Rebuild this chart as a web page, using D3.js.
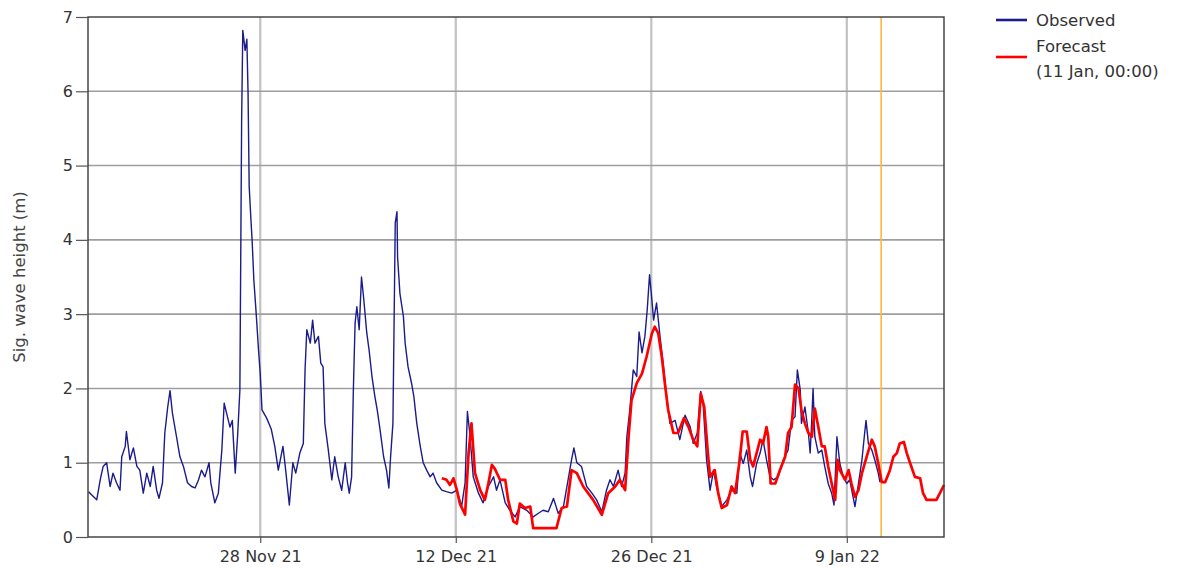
<!DOCTYPE html>
<html>
<head>
<meta charset="utf-8">
<script src="https://cdn.jsdelivr.net/npm/d3@7"></script>
<style>
  html, body { margin: 0; padding: 0; background: #fff; }
  svg { display: block; font-family: "DejaVu Sans", sans-serif; }
</style>
</head>
<body>
<svg id="chart" width="1184" height="569"></svg>
<script>
// ---- data (hours since series start, 15 Nov 2021 16:00 UTC) ----
const seriesStart = Date.UTC(2021, 10, 15, 16);
const domainEndHours = 1471;

const obsHours = [
  1,6,15,21,26,32,38,43,49,55,
  58,64,66,72,78,84,89,95,101,107,
  112,118,122,128,132,137,141,145,151,158,
  164,171,178,184,190,195,201,208,211,218,
  224,230,234,238,244,248,253,257,261,264,
  266,270,273,275,277,280,282,285,289,293,
  296,299,307,315,321,327,335,339,346,352,
  357,364,370,373,376,382,386,390,396,400,
  404,407,413,419,424,430,436,442,446,449,
  453,456,459,462,466,470,474,479,483,488,
  493,497,502,508,513,517,520,524,526,528,
  531,532,536,542,545,550,556,560,565,571,
  576,582,588,593,599,608,616,625,634,642,
  648,652,656,662,671,679,688,697,702,708,
  717,725,734,742,754,765,774,782,791,800,
  808,817,825,831,835,840,848,857,866,874,
  883,891,897,903,911,917,923,926,931,937,
  943,947,952,957,961,965,968,972,977,983,
  989,995,1000,1009,1017,1026,1035,1040,1047,1053,
  1057,1063,1069,1075,1080,1089,1098,1106,1115,1120,
  1126,1132,1138,1142,1149,1155,1160,1166,1172,1178,
  1186,1195,1203,1209,1215,1219,1224,1226,1232,1238,
  1241,1244,1246,1249,1255,1261,1266,1272,1278,1282,
  1287,1292,1298,1304,1309,1318,1324,1330,1334,1337,
  1341,1347,1352,1358,1361
];
const obsValues = [
  0.61,0.57,0.50,0.77,0.95,1.0,0.68,0.86,0.73,0.63,
  1.08,1.22,1.42,1.04,1.2,0.95,0.9,0.59,0.86,0.68,
  0.95,0.63,0.52,0.73,1.4,1.75,1.97,1.67,1.4,1.08,
  0.95,0.73,0.68,0.66,0.77,0.9,0.81,1.0,0.73,0.46,
  0.59,1.17,1.8,1.67,1.48,1.57,0.86,1.35,1.98,5.6,
  6.82,6.55,6.7,6.0,4.72,4.27,4.0,3.46,3.01,2.52,
  2.2,1.71,1.6,1.45,1.22,0.9,1.22,0.95,0.43,1.0,
  0.86,1.13,1.26,2.25,2.79,2.61,2.92,2.61,2.7,2.34,
  2.29,1.53,1.17,0.77,1.08,0.81,0.63,1.0,0.73,0.59,
  0.81,1.98,2.88,3.1,2.79,3.5,3.19,2.75,2.52,2.16,
  1.89,1.71,1.44,1.08,0.9,0.66,1.08,1.53,2.88,4.23,
  4.38,3.77,3.28,2.97,2.61,2.29,2.07,1.89,1.53,1.22,
  1.0,0.9,0.81,0.86,0.73,0.63,0.61,0.59,0.63,0.41,
  0.73,1.69,1.4,0.81,0.59,0.46,0.68,0.81,0.63,0.77,
  0.46,0.36,0.27,0.41,0.36,0.27,0.32,0.36,0.34,0.52,
  0.32,0.41,0.77,1.04,1.2,1.0,0.95,0.68,0.59,0.5,
  0.34,0.63,0.77,0.68,0.9,0.68,0.86,1.35,1.71,2.25,
  2.16,2.76,2.48,2.7,3.06,3.53,3.28,2.92,3.15,2.7,
  2.29,1.84,1.53,1.57,1.31,1.64,1.48,1.26,1.4,1.96,
  1.8,1.04,0.63,0.9,0.68,0.41,0.5,0.63,0.59,1.13,
  0.99,1.17,0.81,0.68,0.99,1.13,1.31,1.04,0.81,0.77,
  0.81,1.04,1.17,1.57,1.62,2.25,1.98,1.53,1.75,1.4,
  1.13,1.62,2.0,1.35,1.13,1.17,0.95,0.72,0.59,0.43,
  1.35,0.99,0.81,0.72,0.77,0.41,0.72,1.04,1.35,1.57,
  1.26,1.17,1.04,0.86,0.74
];

const fcHours = [
  608,616,622,628,634,639,648,654,659,665,
  674,682,688,694,699,708,717,722,731,737,
  742,751,760,765,805,814,823,831,840,851,
  868,883,894,906,914,923,929,934,943,952,
  960,969,974,980,986,992,997,1006,1014,1024,
  1032,1040,1047,1053,1059,1065,1069,1077,1083,1089,
  1098,1106,1112,1120,1125,1132,1138,1143,1149,1155,
  1160,1166,1169,1173,1181,1189,1198,1203,1209,1215,
  1221,1226,1232,1238,1244,1249,1255,1261,1266,1272,
  1278,1284,1288,1292,1301,1307,1312,1318,1324,1330,
  1338,1347,1352,1358,1364,1370,1378,1384,1390,1395,
  1402,1407,1413,1421,1430,1435,1441,1458,1464,1471
];
const fcValues = [
  0.79,0.77,0.70,0.79,0.63,0.45,0.30,1.13,1.53,0.86,
  0.63,0.5,0.72,0.97,0.92,0.77,0.77,0.5,0.21,0.18,
  0.45,0.39,0.41,0.12,0.12,0.39,0.41,0.9,0.86,0.68,
  0.5,0.30,0.59,0.68,0.77,0.63,1.35,1.84,2.07,2.2,
  2.43,2.74,2.83,2.74,2.43,2.02,1.71,1.4,1.4,1.6,
  1.48,1.31,1.22,1.93,1.75,1.15,0.81,0.9,0.59,0.39,
  0.43,0.68,0.59,1.04,1.42,1.42,1.04,0.95,1.13,1.31,
  1.26,1.48,1.35,0.72,0.72,0.9,1.08,1.4,1.48,2.05,
  2.0,1.71,1.53,1.4,1.35,1.73,1.48,1.22,1.22,0.95,
  0.72,0.5,1.04,0.9,0.77,0.9,0.72,0.54,0.63,0.86,
  1.08,1.31,1.22,0.99,0.74,0.74,0.9,1.08,1.13,1.26,
  1.28,1.13,0.99,0.81,0.79,0.59,0.5,0.5,0.59,0.70
];

const yTicks = [0, 1, 2, 3, 4, 5, 6, 7];
const xTickDates = ["2021-11-28", "2021-12-12", "2021-12-26", "2022-01-09"];
const xTickLabels = ["28 Nov 21", "12 Dec 21", "26 Dec 21", "9 Jan 22"];
const nowMarker = "2022-01-11T11:00:00Z";
const yLabel = "Sig. wave height (m)";
const legendNames = ["Observed", "Forecast"];
const forecastIssued = "(11 Jan, 00:00)";

// ---- layout ----
const m = { left: 88, right: 944, top: 17, bottom: 537 };
const svg = d3.select("#chart");
const toDate = h => new Date(seriesStart + h * 3600e3);

const x = d3.scaleUtc()
  .domain([toDate(0), toDate(domainEndHours)])
  .range([m.left, m.right]);
const y = d3.scaleLinear().domain([0, 7]).range([m.bottom, m.top]);

const tickDates = xTickDates.map(s => new Date(s + "T00:00:00Z"));

svg.append("rect").attr("width", 1184).attr("height", 569).attr("fill", "#fff");

// gridlines
svg.append("g").selectAll("line").data(tickDates).join("line")
  .attr("x1", d => x(d)).attr("x2", d => x(d))
  .attr("y1", m.top).attr("y2", m.bottom)
  .attr("stroke", "#c2c2c2").attr("stroke-width", 2.2);
svg.append("g").selectAll("line").data(yTicks.slice(1, -1)).join("line")
  .attr("x1", m.left).attr("x2", m.right)
  .attr("y1", d => y(d)).attr("y2", d => y(d))
  .attr("stroke", "#9e9e9e").attr("stroke-width", 1.6);

// now marker
svg.append("line")
  .attr("x1", x(new Date(nowMarker))).attr("x2", x(new Date(nowMarker)))
  .attr("y1", m.top).attr("y2", m.bottom)
  .attr("stroke", "#ffb640").attr("stroke-width", 1.6);

// lines
const line = d3.line().x(d => x(d[0])).y(d => y(d[1]));
const obs = obsHours.map((h, i) => [toDate(h), obsValues[i]]);
const fc = fcHours.map((h, i) => [toDate(h), fcValues[i]]);

svg.append("path").datum(obs)
  .attr("d", line).attr("fill", "none")
  .attr("stroke", "#1b1b8c").attr("stroke-width", 1.4)
  .attr("stroke-linejoin", "round");
svg.append("path").datum(fc)
  .attr("d", line).attr("fill", "none")
  .attr("stroke", "#ff0000").attr("stroke-width", 2.7)
  .attr("stroke-linejoin", "round");

// frame
svg.append("rect")
  .attr("x", m.left).attr("y", m.top)
  .attr("width", m.right - m.left).attr("height", m.bottom - m.top)
  .attr("fill", "none").attr("stroke", "#3a3a3a").attr("stroke-width", 1.4);

// axes
const yAxis = svg.append("g").attr("transform", `translate(${m.left},0)`)
  .call(d3.axisLeft(y).tickValues(yTicks).tickSize(12).tickPadding(3).tickFormat(d3.format("d")));
const xAxis = svg.append("g").attr("transform", `translate(0,${m.bottom})`)
  .call(d3.axisBottom(x).tickValues(tickDates).tickSize(6).tickPadding(8)
    .tickFormat((d, i) => xTickLabels[i]));
[yAxis, xAxis].forEach(g => {
  g.select(".domain").remove();
  g.selectAll(".tick line").attr("stroke", "#555").attr("stroke-width", 1.2);
  g.selectAll(".tick text").attr("fill", "#333")
    .style("font-family", "DejaVu Sans, sans-serif").style("font-size", "16px");
});

// y label
svg.append("text")
  .attr("transform", `translate(25,${(m.top + m.bottom) / 2}) rotate(-90)`)
  .attr("text-anchor", "middle")
  .attr("fill", "#444").style("font-size", "16.5px")
  .text(yLabel);

// legend
const lg = svg.append("g");
lg.append("line").attr("x1", 996).attr("x2", 1027).attr("y1", 20).attr("y2", 20)
  .attr("stroke", "#1b1b8c").attr("stroke-width", 2.6);
lg.append("text").attr("x", 1036).attr("y", 26).attr("fill", "#333")
  .style("font-size", "16.5px").text(legendNames[0]);
lg.append("line").attr("x1", 996).attr("x2", 1027).attr("y1", 57).attr("y2", 57)
  .attr("stroke", "#ff0000").attr("stroke-width", 2.6);
lg.append("text").attr("x", 1036).attr("y", 52).attr("fill", "#333")
  .style("font-size", "16.5px").text(legendNames[1]);
lg.append("text").attr("x", 1036).attr("y", 77).attr("fill", "#333")
  .style("font-size", "16.5px").text(forecastIssued);
</script>
</body>
</html>
